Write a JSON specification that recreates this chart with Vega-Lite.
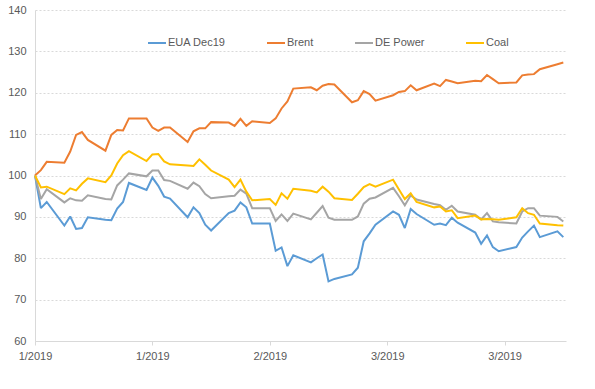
{
  "$schema": "https://vega.github.io/schema/vega-lite/v6.json",
  "width": 531,
  "height": 331,
  "autosize": {"type": "none"},
  "padding": {"left": 35, "top": 10, "right": 29, "bottom": 48},
  "background": "#ffffff",
  "config": {
    "view": {"stroke": null},
    "font": "Liberation Sans"
  },
  "data": {
    "values": [
      {"date": "2019-01-02", "series": "EUA Dec19", "value": 100},
      {"date": "2019-01-03", "series": "EUA Dec19", "value": 92.1},
      {"date": "2019-01-04", "series": "EUA Dec19", "value": 93.6},
      {"date": "2019-01-07", "series": "EUA Dec19", "value": 87.9},
      {"date": "2019-01-08", "series": "EUA Dec19", "value": 90.1},
      {"date": "2019-01-09", "series": "EUA Dec19", "value": 87.1},
      {"date": "2019-01-10", "series": "EUA Dec19", "value": 87.3},
      {"date": "2019-01-11", "series": "EUA Dec19", "value": 89.9},
      {"date": "2019-01-14", "series": "EUA Dec19", "value": 89.3},
      {"date": "2019-01-15", "series": "EUA Dec19", "value": 89.2},
      {"date": "2019-01-16", "series": "EUA Dec19", "value": 92.0},
      {"date": "2019-01-17", "series": "EUA Dec19", "value": 93.6},
      {"date": "2019-01-18", "series": "EUA Dec19", "value": 98.2},
      {"date": "2019-01-21", "series": "EUA Dec19", "value": 96.5},
      {"date": "2019-01-22", "series": "EUA Dec19", "value": 99.5},
      {"date": "2019-01-23", "series": "EUA Dec19", "value": 97.5},
      {"date": "2019-01-24", "series": "EUA Dec19", "value": 94.9},
      {"date": "2019-01-25", "series": "EUA Dec19", "value": 94.4},
      {"date": "2019-01-28", "series": "EUA Dec19", "value": 89.9},
      {"date": "2019-01-29", "series": "EUA Dec19", "value": 92.3},
      {"date": "2019-01-30", "series": "EUA Dec19", "value": 90.9},
      {"date": "2019-01-31", "series": "EUA Dec19", "value": 88.1},
      {"date": "2019-02-01", "series": "EUA Dec19", "value": 86.7},
      {"date": "2019-02-04", "series": "EUA Dec19", "value": 90.9},
      {"date": "2019-02-05", "series": "EUA Dec19", "value": 91.5},
      {"date": "2019-02-06", "series": "EUA Dec19", "value": 93.5},
      {"date": "2019-02-07", "series": "EUA Dec19", "value": 92.3},
      {"date": "2019-02-08", "series": "EUA Dec19", "value": 88.4},
      {"date": "2019-02-11", "series": "EUA Dec19", "value": 88.4},
      {"date": "2019-02-12", "series": "EUA Dec19", "value": 81.8},
      {"date": "2019-02-13", "series": "EUA Dec19", "value": 82.6},
      {"date": "2019-02-14", "series": "EUA Dec19", "value": 78.1},
      {"date": "2019-02-15", "series": "EUA Dec19", "value": 80.7},
      {"date": "2019-02-18", "series": "EUA Dec19", "value": 79.0},
      {"date": "2019-02-19", "series": "EUA Dec19", "value": 80.0},
      {"date": "2019-02-20", "series": "EUA Dec19", "value": 80.9},
      {"date": "2019-02-21", "series": "EUA Dec19", "value": 74.4},
      {"date": "2019-02-22", "series": "EUA Dec19", "value": 75.0},
      {"date": "2019-02-25", "series": "EUA Dec19", "value": 76.1},
      {"date": "2019-02-26", "series": "EUA Dec19", "value": 77.7},
      {"date": "2019-02-27", "series": "EUA Dec19", "value": 84.1},
      {"date": "2019-02-28", "series": "EUA Dec19", "value": 86.0},
      {"date": "2019-03-01", "series": "EUA Dec19", "value": 88.1},
      {"date": "2019-03-04", "series": "EUA Dec19", "value": 91.3},
      {"date": "2019-03-05", "series": "EUA Dec19", "value": 90.5},
      {"date": "2019-03-06", "series": "EUA Dec19", "value": 87.3},
      {"date": "2019-03-07", "series": "EUA Dec19", "value": 91.9},
      {"date": "2019-03-08", "series": "EUA Dec19", "value": 90.7},
      {"date": "2019-03-11", "series": "EUA Dec19", "value": 88.1},
      {"date": "2019-03-12", "series": "EUA Dec19", "value": 88.4},
      {"date": "2019-03-13", "series": "EUA Dec19", "value": 88.0},
      {"date": "2019-03-14", "series": "EUA Dec19", "value": 89.8},
      {"date": "2019-03-15", "series": "EUA Dec19", "value": 88.6},
      {"date": "2019-03-18", "series": "EUA Dec19", "value": 86.2},
      {"date": "2019-03-19", "series": "EUA Dec19", "value": 83.5},
      {"date": "2019-03-20", "series": "EUA Dec19", "value": 85.5},
      {"date": "2019-03-21", "series": "EUA Dec19", "value": 82.7},
      {"date": "2019-03-22", "series": "EUA Dec19", "value": 81.7},
      {"date": "2019-03-25", "series": "EUA Dec19", "value": 82.7},
      {"date": "2019-03-26", "series": "EUA Dec19", "value": 85.0},
      {"date": "2019-03-27", "series": "EUA Dec19", "value": 86.5},
      {"date": "2019-03-28", "series": "EUA Dec19", "value": 87.9},
      {"date": "2019-03-29", "series": "EUA Dec19", "value": 85.1},
      {"date": "2019-04-01", "series": "EUA Dec19", "value": 86.5},
      {"date": "2019-04-02", "series": "EUA Dec19", "value": 85.1},

      {"date": "2019-01-02", "series": "Brent", "value": 100},
      {"date": "2019-01-03", "series": "Brent", "value": 101.3},
      {"date": "2019-01-04", "series": "Brent", "value": 103.3},
      {"date": "2019-01-07", "series": "Brent", "value": 103.1},
      {"date": "2019-01-08", "series": "Brent", "value": 105.8},
      {"date": "2019-01-09", "series": "Brent", "value": 109.8},
      {"date": "2019-01-10", "series": "Brent", "value": 110.5},
      {"date": "2019-01-11", "series": "Brent", "value": 108.6},
      {"date": "2019-01-14", "series": "Brent", "value": 106.0},
      {"date": "2019-01-15", "series": "Brent", "value": 109.8},
      {"date": "2019-01-16", "series": "Brent", "value": 111.0},
      {"date": "2019-01-17", "series": "Brent", "value": 110.9},
      {"date": "2019-01-18", "series": "Brent", "value": 113.8},
      {"date": "2019-01-21", "series": "Brent", "value": 113.8},
      {"date": "2019-01-22", "series": "Brent", "value": 111.6},
      {"date": "2019-01-23", "series": "Brent", "value": 110.8},
      {"date": "2019-01-24", "series": "Brent", "value": 111.6},
      {"date": "2019-01-25", "series": "Brent", "value": 111.6},
      {"date": "2019-01-28", "series": "Brent", "value": 108.1},
      {"date": "2019-01-29", "series": "Brent", "value": 110.7},
      {"date": "2019-01-30", "series": "Brent", "value": 111.4},
      {"date": "2019-01-31", "series": "Brent", "value": 111.4},
      {"date": "2019-02-01", "series": "Brent", "value": 112.9},
      {"date": "2019-02-04", "series": "Brent", "value": 112.8},
      {"date": "2019-02-05", "series": "Brent", "value": 112.0},
      {"date": "2019-02-06", "series": "Brent", "value": 113.7},
      {"date": "2019-02-07", "series": "Brent", "value": 112.0},
      {"date": "2019-02-08", "series": "Brent", "value": 113.1},
      {"date": "2019-02-11", "series": "Brent", "value": 112.7},
      {"date": "2019-02-12", "series": "Brent", "value": 113.8},
      {"date": "2019-02-13", "series": "Brent", "value": 116.2},
      {"date": "2019-02-14", "series": "Brent", "value": 117.9},
      {"date": "2019-02-15", "series": "Brent", "value": 121.0},
      {"date": "2019-02-18", "series": "Brent", "value": 121.3},
      {"date": "2019-02-19", "series": "Brent", "value": 120.6},
      {"date": "2019-02-20", "series": "Brent", "value": 121.7},
      {"date": "2019-02-21", "series": "Brent", "value": 122.1},
      {"date": "2019-02-22", "series": "Brent", "value": 122.0},
      {"date": "2019-02-25", "series": "Brent", "value": 117.7},
      {"date": "2019-02-26", "series": "Brent", "value": 118.2},
      {"date": "2019-02-27", "series": "Brent", "value": 120.4},
      {"date": "2019-02-28", "series": "Brent", "value": 119.7},
      {"date": "2019-03-01", "series": "Brent", "value": 118.1},
      {"date": "2019-03-04", "series": "Brent", "value": 119.4},
      {"date": "2019-03-05", "series": "Brent", "value": 120.2},
      {"date": "2019-03-06", "series": "Brent", "value": 120.4},
      {"date": "2019-03-07", "series": "Brent", "value": 121.8},
      {"date": "2019-03-08", "series": "Brent", "value": 120.6},
      {"date": "2019-03-11", "series": "Brent", "value": 122.2},
      {"date": "2019-03-12", "series": "Brent", "value": 121.6},
      {"date": "2019-03-13", "series": "Brent", "value": 123.1},
      {"date": "2019-03-14", "series": "Brent", "value": 122.7},
      {"date": "2019-03-15", "series": "Brent", "value": 122.3},
      {"date": "2019-03-18", "series": "Brent", "value": 122.9},
      {"date": "2019-03-19", "series": "Brent", "value": 122.8},
      {"date": "2019-03-20", "series": "Brent", "value": 124.3},
      {"date": "2019-03-21", "series": "Brent", "value": 123.3},
      {"date": "2019-03-22", "series": "Brent", "value": 122.3},
      {"date": "2019-03-25", "series": "Brent", "value": 122.5},
      {"date": "2019-03-26", "series": "Brent", "value": 124.2},
      {"date": "2019-03-27", "series": "Brent", "value": 124.4},
      {"date": "2019-03-28", "series": "Brent", "value": 124.5},
      {"date": "2019-03-29", "series": "Brent", "value": 125.7},
      {"date": "2019-04-01", "series": "Brent", "value": 126.9},
      {"date": "2019-04-02", "series": "Brent", "value": 127.3},

      {"date": "2019-01-02", "series": "DE Power", "value": 100},
      {"date": "2019-01-03", "series": "DE Power", "value": 94.3},
      {"date": "2019-01-04", "series": "DE Power", "value": 96.7},
      {"date": "2019-01-07", "series": "DE Power", "value": 93.5},
      {"date": "2019-01-08", "series": "DE Power", "value": 94.5},
      {"date": "2019-01-09", "series": "DE Power", "value": 94.0},
      {"date": "2019-01-10", "series": "DE Power", "value": 93.9},
      {"date": "2019-01-11", "series": "DE Power", "value": 95.2},
      {"date": "2019-01-14", "series": "DE Power", "value": 94.3},
      {"date": "2019-01-15", "series": "DE Power", "value": 94.2},
      {"date": "2019-01-16", "series": "DE Power", "value": 97.6},
      {"date": "2019-01-17", "series": "DE Power", "value": 99.0},
      {"date": "2019-01-18", "series": "DE Power", "value": 100.5},
      {"date": "2019-01-21", "series": "DE Power", "value": 99.8},
      {"date": "2019-01-22", "series": "DE Power", "value": 101.2},
      {"date": "2019-01-23", "series": "DE Power", "value": 101.2},
      {"date": "2019-01-24", "series": "DE Power", "value": 98.9},
      {"date": "2019-01-25", "series": "DE Power", "value": 98.7},
      {"date": "2019-01-28", "series": "DE Power", "value": 96.8},
      {"date": "2019-01-29", "series": "DE Power", "value": 98.3},
      {"date": "2019-01-30", "series": "DE Power", "value": 97.4},
      {"date": "2019-01-31", "series": "DE Power", "value": 95.5},
      {"date": "2019-02-01", "series": "DE Power", "value": 94.5},
      {"date": "2019-02-04", "series": "DE Power", "value": 95.0},
      {"date": "2019-02-05", "series": "DE Power", "value": 95.1},
      {"date": "2019-02-06", "series": "DE Power", "value": 96.6},
      {"date": "2019-02-07", "series": "DE Power", "value": 95.6},
      {"date": "2019-02-08", "series": "DE Power", "value": 92.1},
      {"date": "2019-02-11", "series": "DE Power", "value": 92.1},
      {"date": "2019-02-12", "series": "DE Power", "value": 89.0},
      {"date": "2019-02-13", "series": "DE Power", "value": 90.6},
      {"date": "2019-02-14", "series": "DE Power", "value": 89.0},
      {"date": "2019-02-15", "series": "DE Power", "value": 90.8},
      {"date": "2019-02-18", "series": "DE Power", "value": 89.4},
      {"date": "2019-02-19", "series": "DE Power", "value": 91.0},
      {"date": "2019-02-20", "series": "DE Power", "value": 92.6},
      {"date": "2019-02-21", "series": "DE Power", "value": 89.8},
      {"date": "2019-02-22", "series": "DE Power", "value": 89.3},
      {"date": "2019-02-25", "series": "DE Power", "value": 89.3},
      {"date": "2019-02-26", "series": "DE Power", "value": 90.1},
      {"date": "2019-02-27", "series": "DE Power", "value": 93.2},
      {"date": "2019-02-28", "series": "DE Power", "value": 94.4},
      {"date": "2019-03-01", "series": "DE Power", "value": 94.7},
      {"date": "2019-03-04", "series": "DE Power", "value": 97.0},
      {"date": "2019-03-05", "series": "DE Power", "value": 95.0},
      {"date": "2019-03-06", "series": "DE Power", "value": 92.8},
      {"date": "2019-03-07", "series": "DE Power", "value": 95.2},
      {"date": "2019-03-08", "series": "DE Power", "value": 94.2},
      {"date": "2019-03-11", "series": "DE Power", "value": 93.1},
      {"date": "2019-03-12", "series": "DE Power", "value": 92.8},
      {"date": "2019-03-13", "series": "DE Power", "value": 91.7},
      {"date": "2019-03-14", "series": "DE Power", "value": 92.7},
      {"date": "2019-03-15", "series": "DE Power", "value": 91.3},
      {"date": "2019-03-18", "series": "DE Power", "value": 90.5},
      {"date": "2019-03-19", "series": "DE Power", "value": 89.4},
      {"date": "2019-03-20", "series": "DE Power", "value": 90.9},
      {"date": "2019-03-21", "series": "DE Power", "value": 88.9},
      {"date": "2019-03-22", "series": "DE Power", "value": 88.7},
      {"date": "2019-03-25", "series": "DE Power", "value": 88.4},
      {"date": "2019-03-26", "series": "DE Power", "value": 91.3},
      {"date": "2019-03-27", "series": "DE Power", "value": 92.1},
      {"date": "2019-03-28", "series": "DE Power", "value": 92.1},
      {"date": "2019-03-29", "series": "DE Power", "value": 90.3},
      {"date": "2019-04-01", "series": "DE Power", "value": 90.0},
      {"date": "2019-04-02", "series": "DE Power", "value": 88.9},

      {"date": "2019-01-02", "series": "Coal", "value": 100},
      {"date": "2019-01-03", "series": "Coal", "value": 97.1},
      {"date": "2019-01-04", "series": "Coal", "value": 97.3},
      {"date": "2019-01-07", "series": "Coal", "value": 95.5},
      {"date": "2019-01-08", "series": "Coal", "value": 96.9},
      {"date": "2019-01-09", "series": "Coal", "value": 96.4},
      {"date": "2019-01-10", "series": "Coal", "value": 98.0},
      {"date": "2019-01-11", "series": "Coal", "value": 99.3},
      {"date": "2019-01-14", "series": "Coal", "value": 98.4},
      {"date": "2019-01-15", "series": "Coal", "value": 100.0},
      {"date": "2019-01-16", "series": "Coal", "value": 102.9},
      {"date": "2019-01-17", "series": "Coal", "value": 104.9},
      {"date": "2019-01-18", "series": "Coal", "value": 105.9},
      {"date": "2019-01-21", "series": "Coal", "value": 103.5},
      {"date": "2019-01-22", "series": "Coal", "value": 105.1},
      {"date": "2019-01-23", "series": "Coal", "value": 105.2},
      {"date": "2019-01-24", "series": "Coal", "value": 103.4},
      {"date": "2019-01-25", "series": "Coal", "value": 102.7},
      {"date": "2019-01-28", "series": "Coal", "value": 102.4},
      {"date": "2019-01-29", "series": "Coal", "value": 102.3},
      {"date": "2019-01-30", "series": "Coal", "value": 103.9},
      {"date": "2019-01-31", "series": "Coal", "value": 102.6},
      {"date": "2019-02-01", "series": "Coal", "value": 101.2},
      {"date": "2019-02-04", "series": "Coal", "value": 99.0},
      {"date": "2019-02-05", "series": "Coal", "value": 97.2},
      {"date": "2019-02-06", "series": "Coal", "value": 99.0},
      {"date": "2019-02-07", "series": "Coal", "value": 96.1},
      {"date": "2019-02-08", "series": "Coal", "value": 94.0},
      {"date": "2019-02-11", "series": "Coal", "value": 94.3},
      {"date": "2019-02-12", "series": "Coal", "value": 92.9},
      {"date": "2019-02-13", "series": "Coal", "value": 95.7},
      {"date": "2019-02-14", "series": "Coal", "value": 94.4},
      {"date": "2019-02-15", "series": "Coal", "value": 96.8},
      {"date": "2019-02-18", "series": "Coal", "value": 96.3},
      {"date": "2019-02-19", "series": "Coal", "value": 95.9},
      {"date": "2019-02-20", "series": "Coal", "value": 97.3},
      {"date": "2019-02-21", "series": "Coal", "value": 96.1},
      {"date": "2019-02-22", "series": "Coal", "value": 94.5},
      {"date": "2019-02-25", "series": "Coal", "value": 94.1},
      {"date": "2019-02-26", "series": "Coal", "value": 95.6},
      {"date": "2019-02-27", "series": "Coal", "value": 97.2},
      {"date": "2019-02-28", "series": "Coal", "value": 97.9},
      {"date": "2019-03-01", "series": "Coal", "value": 97.3},
      {"date": "2019-03-04", "series": "Coal", "value": 99.0},
      {"date": "2019-03-05", "series": "Coal", "value": 96.6},
      {"date": "2019-03-06", "series": "Coal", "value": 94.3},
      {"date": "2019-03-07", "series": "Coal", "value": 95.7},
      {"date": "2019-03-08", "series": "Coal", "value": 93.6},
      {"date": "2019-03-11", "series": "Coal", "value": 92.3},
      {"date": "2019-03-12", "series": "Coal", "value": 92.5},
      {"date": "2019-03-13", "series": "Coal", "value": 91.3},
      {"date": "2019-03-14", "series": "Coal", "value": 91.6},
      {"date": "2019-03-15", "series": "Coal", "value": 89.7},
      {"date": "2019-03-18", "series": "Coal", "value": 90.3},
      {"date": "2019-03-19", "series": "Coal", "value": 89.4},
      {"date": "2019-03-20", "series": "Coal", "value": 89.5},
      {"date": "2019-03-21", "series": "Coal", "value": 89.4},
      {"date": "2019-03-22", "series": "Coal", "value": 89.3},
      {"date": "2019-03-25", "series": "Coal", "value": 89.9},
      {"date": "2019-03-26", "series": "Coal", "value": 92.1},
      {"date": "2019-03-27", "series": "Coal", "value": 90.9},
      {"date": "2019-03-28", "series": "Coal", "value": 90.5},
      {"date": "2019-03-29", "series": "Coal", "value": 88.4},
      {"date": "2019-04-01", "series": "Coal", "value": 88.0},
      {"date": "2019-04-02", "series": "Coal", "value": 87.9}
    ]
  },
  "mark": {"type": "line", "strokeWidth": 2, "strokeJoin": "miter", "strokeMiterLimit": 2},
  "encoding": {
    "x": {
      "field": "date",
      "type": "temporal",
      "scale": {
        "type": "utc",
        "domain": [
          {"year": 2019, "month": 1, "date": 2, "utc": true},
          {"year": 2019, "month": 4, "date": 2, "hours": 11, "utc": true}
        ]
      },
      "axis": {
        "title": null,
        "values": [
          {"year": 2019, "month": 1, "date": 2, "utc": true},
          {"year": 2019, "month": 1, "date": 22, "utc": true},
          {"year": 2019, "month": 2, "date": 11, "utc": true},
          {"year": 2019, "month": 3, "date": 3, "utc": true},
          {"year": 2019, "month": 3, "date": 23, "utc": true}
        ],
        "labelExpr": "utcFormat(datum.value, '%-m/%Y')",
        "labelFlush": false,
        "labelOverlap": false,
        "grid": false,
        "domainColor": "#d9d9d9",
        "domainWidth": 1,
        "tickColor": "#d9d9d9",
        "tickSize": 4,
        "labelPadding": 5,
        "labelFontSize": 11,
        "labelColor": "#595959",
        "labelFont": "Liberation Sans"
      }
    },
    "y": {
      "field": "value",
      "type": "quantitative",
      "scale": {"domain": [60, 140], "nice": false, "zero": false},
      "axis": {
        "title": null,
        "values": [60, 70, 80, 90, 100, 110, 120, 130, 140],
        "grid": true,
        "gridColor": "#d9d9d9",
        "gridDash": [2, 2],
        "gridWidth": 1,
        "domainColor": "#d9d9d9",
        "ticks": false,
        "labelPadding": 9,
        "labelFontSize": 11,
        "labelColor": "#595959",
        "labelFont": "Liberation Sans"
      }
    },
    "color": {
      "field": "series",
      "type": "nominal",
      "sort": ["EUA Dec19", "Brent", "DE Power", "Coal"],
      "scale": {
        "domain": ["EUA Dec19", "Brent", "DE Power", "Coal"],
        "range": ["#5B9BD5", "#ED7D31", "#A5A5A5", "#FFC000"]
      },
      "legend": {
        "title": null,
        "orient": "none",
        "legendX": 112,
        "legendY": 23,
        "direction": "horizontal",
        "symbolType": "stroke",
        "symbolSize": 324,
        "symbolStrokeWidth": 2,
        "labelFontSize": 11,
        "labelColor": "#595959",
        "labelFont": "Liberation Sans",
        "labelOffset": 1,
        "columnPadding": 37
      }
    }
  }
}
